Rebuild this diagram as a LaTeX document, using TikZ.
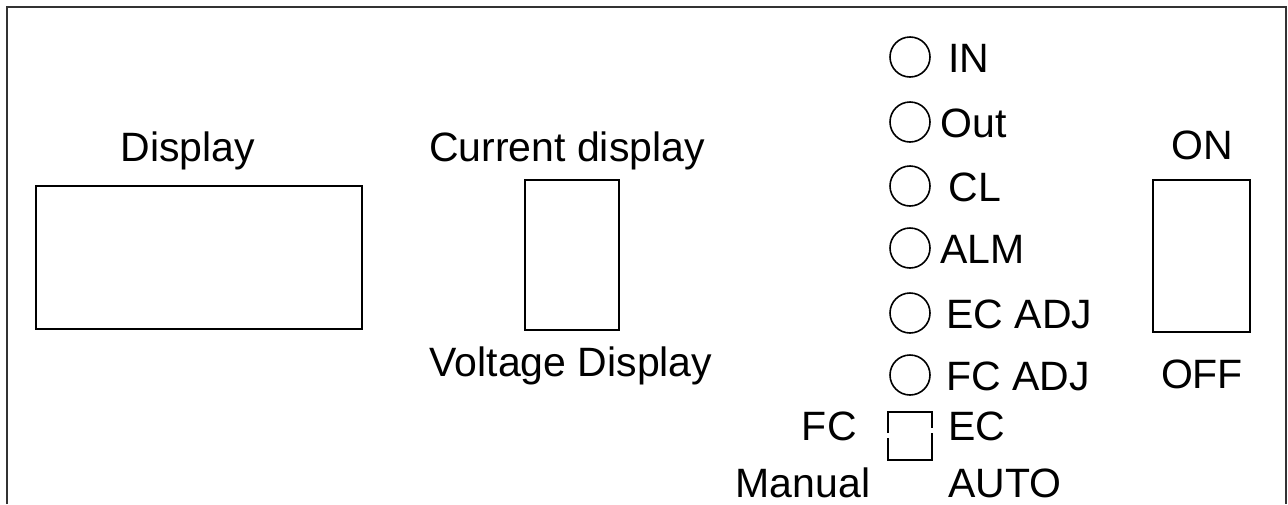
\documentclass[tikz,border=0pt]{standalone}
\usepackage{fontspec}
\setmainfont{Liberation Sans}
\begin{document}
\begin{tikzpicture}[x=0.5pt,y=-0.5pt,
  lbl/.style={font=\fontsize{20.5pt}{24pt}\selectfont, inner sep=0pt, anchor=base},
  lbll/.style={lbl, anchor=base west},
  panelbox/.style={draw=black, line width=1pt},
  lamp/.style={circle, draw=black, line width=0.8pt, minimum size=20pt, inner sep=0pt}]
\useasboundingbox (0,0) rectangle (1288,504);
% frame (open at bottom)
\draw[line width=1.4pt, draw=black!80] (7,504) -- (7,7) -- (1286,7) -- (1286,504);
% main display
\node[lbl] (dlab) at (188,161) {Display};
\node[panelbox, minimum width=163pt, minimum height=71.5pt, inner sep=0pt] (disp) at (199,257.5) {};
% current/voltage display
\node[lbl] (clab) at (567,161) {Current display};
\node[panelbox, minimum width=47pt, minimum height=75pt, inner sep=0pt] (cdisp) at (572,255) {};
\node[lbl] (vlab) at (571,376) {Voltage Display};
% lamps
\foreach \n/\y/\t/\dx in {in/57/IN/948, out/122/Out/940, cl/186/CL/948, alm/248/ALM/940, ecadj/313/EC ADJ/946, fcadj/375/FC ADJ/946}{
  \node[lamp] (l\n) at (910,\y) {};
  \node[lbll] (t\n) at (\dx,\y+15) {\t};
}
% selector
\coordinate (sq) at (910,436);
\draw[line width=1pt] (888,433) -- (888,412) -- (932,412) -- (932,428);
\draw[line width=1pt] (888,438) -- (888,460) -- (932,460) -- (932,433);
\node[lbl, anchor=base east] (fc) at (857,440) {FC};
\node[lbll] (ec) at (948,440) {EC};
\node[lbl] (man) at (803,497) {Manual};
\node[lbll] (auto) at (948,497) {AUTO};
% power switch
\node[lbl] (on) at (1202,159) {ON};
\node[panelbox, minimum width=48.5pt, minimum height=76pt, inner sep=0pt] (sw) at (1201.5,256) {};
\node[lbl] (off) at (1202,388) {OFF};
\end{tikzpicture}
\end{document}
